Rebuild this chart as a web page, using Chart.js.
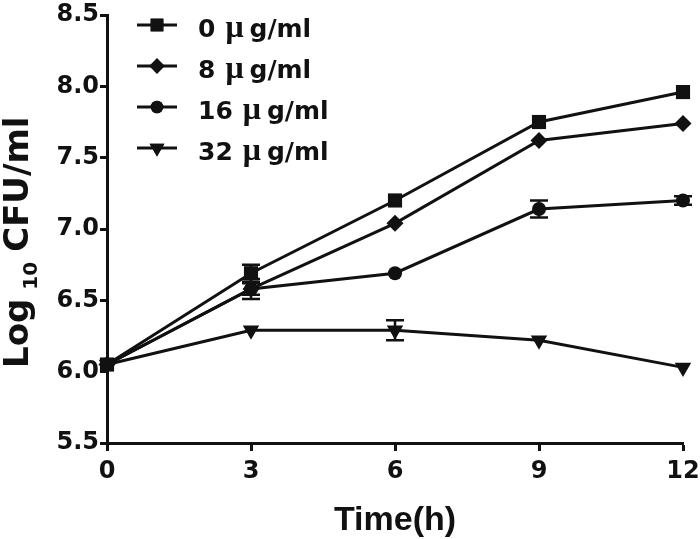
<!DOCTYPE html>
<html>
<head>
<meta charset="utf-8">
<script src="https://cdn.jsdelivr.net/npm/chart.js@4.4.0/dist/chart.umd.min.js"></script>
<style>
  html, body { margin: 0; padding: 0; background: #fff; }
  #wrap { width: 700px; height: 539px; }
</style>
</head>
<body>
<div id="wrap"><canvas id="growth" width="700" height="539"></canvas></div>
<script>
const times = [0, 3, 6, 9, 12];
const seriesNames = ["0", "8", "16", "32"];
const dose0 = [6.05, 6.69, 7.20, 7.75, 7.96];
const dose8 = [6.05, 6.58, 7.04, 7.62, 7.74];
const dose16 = [6.05, 6.58, 6.69, 7.14, 7.20];
const dose32 = [6.05, 6.29, 6.29, 6.22, 6.03];
const err0 = [0, 0.06, 0, 0, 0];
const err8 = [0, 0.04, 0, 0, 0];
const err16 = [0, 0.07, 0, 0.06, 0.03];
const err32 = [0, 0, 0.07, 0, 0];
const yTicks = [5.5, 6.0, 6.5, 7.0, 7.5, 8.0, 8.5];

const ink = "#111";
const markers = [
  { pointStyle: "rect", radius: 10, rotation: 0 },
  { pointStyle: "rectRot", radius: 8.5, rotation: 0 },
  { pointStyle: "circle", radius: 7, rotation: 0 },
  { pointStyle: "triangle", radius: 9.5, rotation: 180 }
];
const values = [dose0, dose8, dose16, dose32];
const errors = [err0, err8, err16, err32];

const datasets = values.map((vals, i) => ({
  label: seriesNames[i] + " μg/ml",
  data: vals.map((v, j) => ({ x: times[j], y: v })),
  errs: errors[i],
  borderColor: ink,
  backgroundColor: ink,
  borderWidth: 3,
  pointStyle: markers[i].pointStyle,
  pointRadius: markers[i].radius,
  pointRotation: markers[i].rotation,
  pointBorderWidth: 0,
  tension: 0,
  clip: false
}));

const tickFont = { family: "DejaVu Sans", weight: "bold", size: 24 };

const errorBars = {
  id: "errorBars",
  afterDatasetsDraw(chart) {
    const ctx = chart.ctx;
    const ys = chart.scales.y, xs = chart.scales.x;
    ctx.save();
    ctx.strokeStyle = ink;
    ctx.lineWidth = 2.5;
    chart.data.datasets.forEach(ds => {
      ds.data.forEach((p, j) => {
        const e = ds.errs[j];
        if (!e) return;
        const x = xs.getPixelForValue(p.x);
        const top = ys.getPixelForValue(p.y + e);
        const bot = ys.getPixelForValue(p.y - e);
        ctx.beginPath();
        ctx.moveTo(x, top); ctx.lineTo(x, bot);
        ctx.moveTo(x - 9, top); ctx.lineTo(x + 9, top);
        ctx.moveTo(x - 9, bot); ctx.lineTo(x + 9, bot);
        ctx.stroke();
      });
    });
    ctx.restore();
  }
};

const extras = {
  id: "extras",
  afterDraw(chart) {
    const ctx = chart.ctx;
    ctx.save();
    ctx.fillStyle = ink;
    ctx.strokeStyle = ink;

    // legend
    chart.data.datasets.forEach((ds, i) => {
      const y = 25 + i * 41;
      ctx.lineWidth = 3;
      ctx.beginPath();
      ctx.moveTo(137, y); ctx.lineTo(177, y);
      ctx.stroke();
      Chart.helpers.drawPoint(ctx, {
        pointStyle: ds.pointStyle, radius: ds.pointRadius * 0.9,
        rotation: ds.pointRotation, borderWidth: 0
      }, 157, y);
      ctx.fill();
      ctx.textBaseline = "alphabetic";
      ctx.textAlign = "left";
      let x = 198;
      ctx.font = "bold 25px 'DejaVu Sans'";
      ctx.fillText(seriesNames[i], x, y + 12);
      x += ctx.measureText(seriesNames[i]).width + 10;
      ctx.font = "bold 32px 'Liberation Serif'";
      ctx.fillText("μ", x, y + 12);
      x += ctx.measureText("μ").width + 6;
      ctx.font = "bold 25px 'DejaVu Sans'";
      ctx.fillText("g/ml", x, y + 12);
    });

    // x title
    ctx.font = "bold 34px 'Liberation Sans'";
    ctx.textAlign = "center";
    ctx.fillText("Time(h)", 395, 530);

    // y title with subscript
    ctx.translate(28, 368);
    ctx.rotate(-Math.PI / 2);
    ctx.textAlign = "left";
    let x = 0;
    ctx.font = "bold 34px 'DejaVu Sans'";
    ctx.fillText("Log", x, 0);
    x += ctx.measureText("Log").width + 9;
    ctx.font = "bold 20px 'DejaVu Sans'";
    ctx.fillText("10", x, 9);
    x += ctx.measureText("10").width + 10;
    ctx.font = "bold 34px 'DejaVu Sans'";
    ctx.fillText("CFU/ml", x, 0);
    ctx.restore();
  }
};

new Chart(document.getElementById("growth"), {
  type: "line",
  data: { datasets },
  options: {
    responsive: false,
    animation: false,
    layout: { padding: { left: 0, top: 15, right: 17, bottom: 0 } },
    plugins: { legend: { display: false }, tooltip: { enabled: false } },
    scales: {
      x: {
        type: "linear",
        min: 0, max: 12,
        afterFit: s => { s.height = 96; s.paddingRight = 0; s.paddingLeft = 0; },
        afterBuildTicks: s => { s.ticks = times.map(v => ({ value: v })); },
        ticks: { font: tickFont, color: ink, padding: 6, maxRotation: 0 },
        grid: { drawOnChartArea: false, drawTicks: true, tickLength: 8, tickWidth: 3, color: ink },
        border: { display: true, width: 3, color: ink }
      },
      y: {
        min: 5.5, max: 8.5,
        afterFit: s => { s.width = 107; s.paddingTop = 0; s.paddingBottom = 0; },
        afterBuildTicks: s => { s.ticks = yTicks.map(v => ({ value: v })); },
        ticks: { font: tickFont, color: ink, padding: 1, callback: v => v.toFixed(1) },
        grid: { drawOnChartArea: false, drawTicks: true, tickLength: 7, tickWidth: 3, color: ink },
        border: { display: true, width: 3, color: ink }
      }
    }
  },
  plugins: [errorBars, extras]
});
</script>
</body>
</html>
